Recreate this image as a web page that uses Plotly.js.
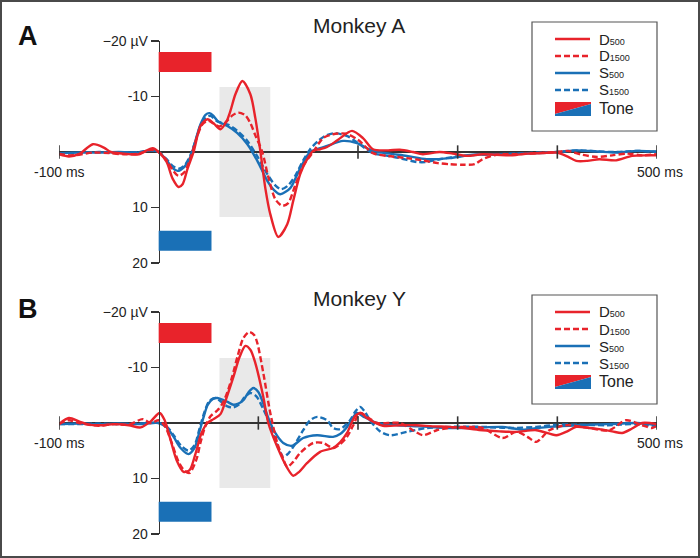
<!DOCTYPE html>
<html>
<head>
<meta charset="utf-8">
<script src="https://cdn.plot.ly/plotly-3.0.1.min.js"></script>
<style>
  body { margin: 0; background: #fff; }
  #wrap { position: relative; width: 700px; height: 558px; }
  #plot { width: 700px; height: 558px; }
  #frame { position: absolute; left: 0; top: 0; width: 700px; height: 558px; box-sizing: border-box;
           border: 2px solid #4a4a4a; pointer-events: none; }
</style>
</head>
<body>
<div id="wrap"><div id="plot"></div><div id="frame"></div></div>
<script>
// ---- data (ms, µV; negative plotted up) ----
const timeA_D500 = [-100,-90,-80,-66,-55,-48,-35,-20,-6,0,8,14,20,24,29,35,42,49,55,62,68,72,77,84,92,97,102,107,112,120,129,135,142,149,155,162,169,180,194,205,215,230,242,255,265,282,295,309,325,339,355,370,385,399,410,419,430,442,459,475,490,500];
const ampA_D500  = [0.4,0.8,0.4,-1.4,-0.8,0,0.3,0.4,-0.7,0,1.8,4.8,6.3,5.8,3.0,0,-4.7,-5.9,-5.2,-4.1,-5.5,-7.4,-10.4,-12.8,-10.4,-6.1,-0.2,6.5,11.2,15.3,13.0,8.8,4.0,1.3,-0.2,-0.5,-0.9,-2.2,-3.8,-2.5,-0.5,-0.3,-0.4,0,0.4,0,0.3,0.7,0.4,0.5,0.6,0.3,0.2,0.1,0.8,1.6,1.6,1.3,1.5,0.7,0.6,0.6];

const timeA_D1500 = [-100,-90,-80,-66,-50,-35,-20,-8,0,8,15,20,26,33,38,44,50,56,61,68,74,80,87,92,97,104,110,117,124,130,137,145,155,165,175,188,200,215,230,249,265,280,292,305,317,325,339,360,380,400,410,425,440,455,470,485,500];
const ampA_D1500  = [0.3,0.6,0.5,0.1,0.2,0.4,0.3,-0.4,0,1.5,3.5,4.3,3.6,0.5,-2.5,-5.0,-5.6,-5.0,-4.6,-5.5,-6.6,-7.1,-6.6,-5.2,-3.0,0,4.5,8.5,9.7,9.2,6.0,2.5,0,-2.5,-3.2,-3.3,-2.2,0.2,0.7,1.1,1.5,2.0,2.2,2.3,2.2,1.3,0.5,0.4,0.2,0,-0.2,0.5,0.9,0.6,0.3,0.6,0.4];

const timeA_S500 = [-100,-80,-60,-40,-20,-8,0,8,14,19,25,32,36,42,47,51,55,59,64,69,79,89,99,109,116,122,132,142,152,162,169,185,199,215,232,249,269,292,315,340,360,380,400,420,440,460,480,500];
const ampA_S500  = [0.2,0.1,0.1,0,0.1,-0.3,0,1.5,2.9,3.4,2.8,0.8,-1.5,-5.0,-6.7,-7.0,-6.5,-5.6,-5.1,-4.7,-3.4,-1.4,1.6,5.2,6.9,7.6,6.5,2.9,0,-0.7,-1.1,-2.0,-1.6,-0.2,0.3,0.7,1.3,1.1,0.5,0.4,0.3,0.2,0,-0.3,-0.1,0.1,-0.2,-0.1];

const timeA_S1500 = [-100,-80,-60,-40,-20,-8,0,8,14,20,26,32,37,42,47,52,58,64,70,79,89,99,109,117,123,130,137,145,152,160,168,177,190,200,215,230,242,259,269,282,300,320,340,360,380,400,420,440,460,480,500];
const ampA_S1500  = [0.2,0.2,0,0.2,0,-0.3,0,1.3,2.5,3.0,2.4,0.5,-2.0,-4.8,-6.2,-6.5,-5.6,-5.2,-4.9,-3.8,-2.0,0.8,4.0,6.0,6.7,6.0,4.3,1.5,-0.5,-2.0,-3.0,-3.4,-2.8,-1.6,0.2,0.7,1.1,1.8,1.8,1.3,0.8,0.5,0.4,0.3,0.1,0,-0.3,-0.1,0,-0.2,0];

const timeB_D500 = [-100,-90,-80,-70,-58,-45,-30,-18,-8,1,6,12,18,25,31,37,43,49,55,62,68,75,81,87,92,97,105,110,119,129,135,141,149,162,175,182,189,197,203,209,225,242,259,275,292,310,325,342,359,379,399,410,419,432,442,455,465,475,485,500];
const ampB_D500  = [0.2,-0.9,-0.3,0.3,0.4,0.2,0.4,0.8,-0.3,-1.8,-0.5,3.1,6.7,8.8,8.5,5.5,1.8,0,-0.7,-1.6,-4.5,-8.3,-11.8,-13.9,-13.2,-10.8,-4.7,0,4.3,8.1,9.5,8.8,7.2,5.2,4.5,3.5,1.8,-1.2,-1.8,-0.9,0.5,0.4,0.4,0.6,0.7,1.0,1.3,1.5,1.6,1.3,2.2,1.5,0.7,0.9,1.1,1.5,1.8,1.0,0,0.2];

const timeB_D1500 = [-100,-90,-80,-60,-45,-30,-16,-8,0,6,12,20,26,31,38,42,47,52,59,64,69,74,79,85,91,96,99,105,112,119,125,129,135,142,155,165,175,182,189,195,202,210,219,242,255,265,279,295,309,325,345,359,370,379,392,409,432,452,469,485,495,500];
const ampB_D1500  = [0.2,-0.5,0,0.5,0.2,0.3,-0.7,0,-0.5,0.5,3.0,7.0,8.6,9.0,6.5,3.5,0.5,-1.2,-2.3,-3.5,-5.6,-8.5,-11.9,-15.3,-16.4,-15.8,-14.4,-9.0,-1.8,3.6,6.5,7.9,7.0,5.4,3.6,3.6,4.5,3.8,2.5,0.5,-1.8,-1.0,0,0,1.3,2.2,1.3,0.8,0.7,0.9,2.7,1.6,2.5,3.4,1.3,0.4,0.9,1.3,-0.5,0.4,0.9,0.5];

const timeB_S500 = [-100,-80,-60,-40,-20,0,8,15,22,30,36,41,45,49,54,59,64,69,75,80,85,90,95,100,105,110,117,125,134,145,159,175,182,189,195,199,205,219,240,260,280,300,325,345,365,380,392,420,450,480,500];
const ampB_S500  = [0.2,0.1,0.2,0.1,0.2,0,0.8,2.5,4.5,5.6,4.5,1.5,-1.0,-3.2,-4.3,-4.5,-4.2,-3.8,-3.3,-3.5,-4.1,-5.5,-6.3,-5.6,-3.5,-0.9,1.8,3.6,4.1,2.7,2.2,2.5,2.0,0.7,-1.0,-1.8,-1.2,0,0.4,0.6,0.8,0.9,0.8,0.7,1.2,0.9,0.7,0.4,0.2,0,0.4];

const timeB_S1500 = [-100,-80,-60,-40,-20,0,8,15,22,30,36,41,46,51,57,63,69,75,81,86,92,98,105,110,117,125,130,135,145,152,159,169,175,182,192,197,202,207,212,222,232,249,269,292,325,352,379,400,420,450,480,500];
const ampB_S1500  = [0.2,0.2,0.1,0.2,0.1,0,0.6,2.2,4.0,5.0,4.0,1.0,-2.0,-4.0,-4.5,-3.8,-3.0,-2.8,-3.4,-4.6,-5.4,-4.8,-2.5,-0.5,3.0,6.1,5.5,4.3,1.3,-0.5,-1.1,-0.5,0.9,1.1,-0.5,-2.0,-2.9,-2.0,-0.5,1.5,2.2,1.6,0.9,0.7,0.7,0.9,0.7,0.3,0.3,0.4,0.2,0.6];

const panelNames = ['Monkey A', 'Monkey Y'];
const panelLetters = ['A', 'B'];
const seriesNames = ['D', 'D', 'S', 'S'];
const seriesSubs = ['500', '1500', '500', '1500'];
const toneWindow = [0, 53];          // ms
const grayWindow = [61, 112];        // ms
const xTicksA = [-100, 200, 300, 400, 500];
const xTicksB = [-100, 100, 200, 300, 400, 500];

const RED = '#e8232b', BLUE = '#1a70b6';
const FONT = '"Liberation Sans", Arial, sans-serif';

// pixel -> paper helpers (layout only)
const W = 700, H = 558, ML = 59, MR = 43;
const px = x => (x - ML) / (W - ML - MR);
const py = y => (H - y) / H;

const panels = [
  { t: [timeA_D500, timeA_D1500, timeA_S500, timeA_S1500], v: [ampA_D500, ampA_D1500, ampA_S500, ampA_S1500],
    ticks: xTicksA, top: 41, bottom: 263 },
  { t: [timeB_D500, timeB_D1500, timeB_S500, timeB_S1500], v: [ampB_D500, ampB_D1500, ampB_S500, ampB_S1500],
    ticks: xTicksB, top: 312, bottom: 534 }
];

const styles = [
  { color: RED, dash: 'solid' },
  { color: RED, dash: '6px,3px' },
  { color: BLUE, dash: 'solid' },
  { color: BLUE, dash: '6px,3px' }
];

const traces = [];
const shapes = [];
const annotations = [];
const layout = {
  width: W, height: H,
  margin: { l: ML, r: MR, t: 0, b: 0 },
  paper_bgcolor: '#fff', plot_bgcolor: 'rgba(0,0,0,0)',
  showlegend: false,
  font: { family: FONT, color: '#222' },
  hovermode: false
};

panels.forEach((p, i) => {
  const xa = i === 0 ? 'x' : 'x2';
  const ya = i === 0 ? 'y' : 'y2';
  // draw blue first, red on top
  [3, 2, 1, 0].forEach(k => {
    traces.push({
      x: p.t[k], y: p.v[k], xaxis: xa, yaxis: ya,
      type: 'scatter', mode: 'lines',
      line: { color: styles[k].color, width: 2.4, dash: styles[k].dash, shape: 'spline', smoothing: 0.8 }
    });
  });

  layout[i === 0 ? 'xaxis' : 'xaxis2'] = {
    domain: [0, 1], range: [-100, 500], anchor: ya,
    showline: false, showgrid: false, zeroline: false, showticklabels: false, ticks: ''
  };
  layout[i === 0 ? 'yaxis' : 'yaxis2'] = {
    domain: [py(p.bottom), py(p.top)], range: [20, -20], anchor: 'free',
    position: (0 - (-100)) / 600,
    showgrid: false, zeroline: true, zerolinecolor: '#333', zerolinewidth: 1.6,
    showline: true, linecolor: '#333', linewidth: 1.6,
    ticks: 'outside', ticklen: 8, tickwidth: 1.6, tickcolor: '#333',
    tickvals: [-20, -10, 10, 20], ticktext: ['\u221220 \u00b5V', '-10', '10', '20'],
    tickfont: { size: 14, color: '#222', family: FONT }
  };

  // gray analysis window
  shapes.push({ type: 'rect', xref: xa, yref: ya, x0: grayWindow[0], x1: grayWindow[1], y0: -11.7, y1: 11.7,
    fillcolor: '#e9e9e9', line: { width: 0 }, layer: 'below' });
  // tone bars
  shapes.push({ type: 'rect', xref: xa, yref: ya, x0: toneWindow[0], x1: toneWindow[1], y0: -18, y1: -14.4,
    fillcolor: RED, line: { width: 0 } });
  shapes.push({ type: 'rect', xref: xa, yref: ya, x0: toneWindow[0], x1: toneWindow[1], y0: 14.2, y1: 17.8,
    fillcolor: BLUE, line: { width: 0 } });
  // crossing ticks on time axis
  p.ticks.forEach(tv => {
    shapes.push({ type: 'line', xref: xa, yref: ya, x0: tv, x1: tv, y0: -1.2, y1: 1.2,
      line: { color: '#333', width: 1.6 } });
  });

  const off = i === 0 ? 0 : 273;
  annotations.push({ xref: 'paper', yref: 'paper', x: px(359), y: py(25 + off), text: panelNames[i],
    showarrow: false, xanchor: 'center', yanchor: 'middle', font: { size: 21, color: '#222' } });
  annotations.push({ xref: 'paper', yref: 'paper', x: px(28), y: py(36 + off), text: '<b>' + panelLetters[i] + '</b>',
    showarrow: false, xanchor: 'center', yanchor: 'middle', font: { size: 27, color: '#111' } });
  annotations.push({ xref: xa, yref: 'paper', x: -100, y: py(p.top + 131), text: '-100 ms',
    showarrow: false, xanchor: 'center', yanchor: 'middle', font: { size: 14, color: '#222' } });
  annotations.push({ xref: xa, yref: 'paper', x: 500, xshift: 3, y: py(p.top + 131), text: '500 ms',
    showarrow: false, xanchor: 'center', yanchor: 'middle', font: { size: 14, color: '#222' } });

  // legend (drawn by hand)
  shapes.push({ type: 'rect', xref: 'paper', yref: 'paper', x0: px(532), x1: px(657), y0: py(131 + off), y1: py(22 + off),
    fillcolor: '#fff', line: { color: '#555', width: 1.2 } });
  const rows = [39, 56, 73, 90];
  rows.forEach((ry, k) => {
    shapes.push({ type: 'line', xref: 'paper', yref: 'paper', x0: px(555), x1: px(590), y0: py(ry + off), y1: py(ry + off),
      line: { color: styles[k].color, width: 2.4, dash: styles[k].dash } });
    annotations.push({ xref: 'paper', yref: 'paper', x: px(597), y: py(ry + off),
      text: seriesNames[k] + '<span style="font-size:9px">' + seriesSubs[k] + '</span>',
      showarrow: false, xanchor: 'left', yanchor: 'middle', font: { size: 15, color: '#222' } });
  });
  shapes.push({ type: 'path', xref: 'paper', yref: 'paper',
    path: `M ${px(555)},${py(102 + off)} L ${px(591)},${py(102 + off)} L ${px(591)},${py(104 + off)} L ${px(555)},${py(114 + off)} Z`,
    fillcolor: RED, line: { width: 0 } });
  shapes.push({ type: 'path', xref: 'paper', yref: 'paper',
    path: `M ${px(555)},${py(114 + off)} L ${px(591)},${py(104 + off)} L ${px(591)},${py(116 + off)} L ${px(555)},${py(116 + off)} Z`,
    fillcolor: BLUE, line: { width: 0 } });
  annotations.push({ xref: 'paper', yref: 'paper', x: px(597), y: py(108 + off), text: 'Tone',
    showarrow: false, xanchor: 'left', yanchor: 'middle', font: { size: 16, color: '#222' } });
});

layout.shapes = shapes;
layout.annotations = annotations;

Plotly.newPlot('plot', traces, layout, { staticPlot: true });
</script>
</body>
</html>
